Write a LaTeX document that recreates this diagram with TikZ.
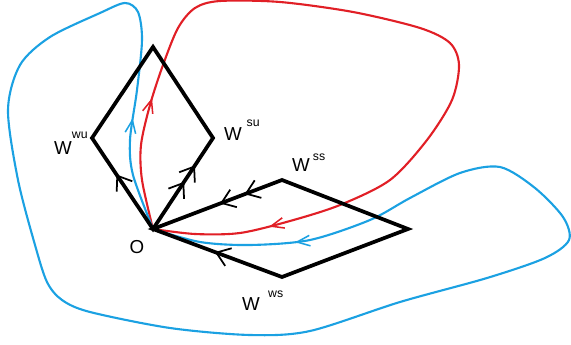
\documentclass[tikz,border=0pt]{standalone}
\usepackage{fontspec}
\setmainfont{Liberation Sans}
\usetikzlibrary{arrows.meta, decorations.markings}

\newcommand{\Wlab}[3]{W\hspace{#1}\raisebox{#2}{\fontsize{10.5pt}{10.5pt}\selectfont #3}}

\begin{document}
\begin{tikzpicture}[
    x=0.03cm, y=-0.03cm,
    font=\fontsize{16pt}{16pt}\selectfont,
    edge/.style={line width=3.2pt, line join=miter},
    orbit/.style={draw=#1, line width=1.8pt},
    lab/.style={anchor=base west, inner sep=0pt},
    bigbarb/.tip={Straight Barb[length=11pt, width=16pt, line width=1.5pt]},
    smallbarb/.tip={Straight Barb[length=11pt, width=9pt, line width=1.3pt]},
    flow/.style={postaction={decorate, decoration={markings,
        mark=at position #1 with {\arrow{bigbarb}}}}},
    flowtwo/.style 2 args={postaction={decorate, decoration={markings,
        mark=at position #1 with {\arrow{bigbarb}},
        mark=at position #2 with {\arrow{bigbarb}}}}},
    orbitflow/.style 2 args={postaction={decorate, decoration={markings,
        mark=at position #1 with {\arrow{smallbarb}},
        mark=at position #2 with {\arrow{smallbarb}}}}},
]

\definecolor{cRed}{HTML}{E11F26}  % homoclinic loop
\definecolor{cBlue}{HTML}{1BA1E2} % outer loop

\useasboundingbox (0,0) rectangle (571,345);

\coordinate (O)   at (153,229);
\coordinate (wu)  at (92,138);
\coordinate (top) at (153,47);
\coordinate (su)  at (213,138);
\coordinate (ss)  at (282,180);
\coordinate (rt)  at (408,229);
\coordinate (ws)  at (282,277);

% loops through O
\draw[orbit=cRed, orbitflow={114pt}{-100pt}] plot[smooth] coordinates {(O) (142,180) (141,145) (150,105)
    (163,65) (178,28) (195,8) (220,1) (280,2) (353,12) (420,28) (450,43) (459,65) (452,100)
    (427,140) (390,180) (340,205) (290,221) (240,233) (195,234) (O)};
\draw[orbit=cBlue, orbitflow={98pt}{-123pt}] plot[smooth] coordinates {(O) (133,175) (130,140) (137,90)
    (142,40) (138,12) (125,3) (100,13) (50,37) (20,65) (8,110) (18,180) (35,245) (47,282) (62,300)
    (90,312) (170,328) (250,335) (310,331) (400,302) (487,278) (545,258) (569,240) (563,217) (535,188)
    (500,167) (460,173) (410,198) (370,220) (310,240) (250,245) (200,242) (O)};

% unstable and stable sets
\draw[edge] (O) -- (wu) -- (top) -- (su) -- cycle;
\draw[edge] (O) -- (ss) -- (rt) -- (ws) -- cycle;
\path[flow=0.6] (O) -- (wu);
\path[flowtwo={0.52}{0.7}] (O) -- (su);
\path[flowtwo={0.29}{0.48}] (ss) -- (O);
\path[flow=0.52] (ws) -- (O);

\node[lab] (Wwu) at (54,155) {\Wlab{0pt}{14.5pt}{wu}};
\node[lab] (Wsu) at (224,141) {\Wlab{4pt}{12.8pt}{su}};
\node[lab] (Wss) at (292,172) {\Wlab{2.5pt}{10pt}{ss}};
\node[lab] (Wws) at (242,310) {\Wlab{7pt}{11pt}{ws}};
\node (Olab) at (137,247) {O};

\end{tikzpicture}
\end{document}
